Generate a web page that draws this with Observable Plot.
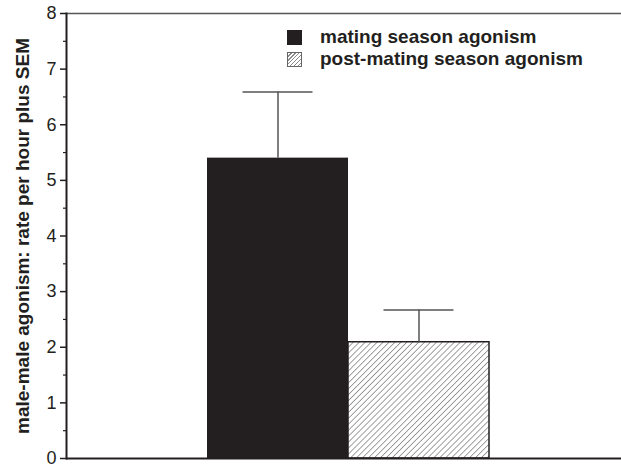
<!DOCTYPE html>
<html>
<head>
<meta charset="utf-8">
<script src="https://cdn.jsdelivr.net/npm/d3@7"></script>
<script src="https://cdn.jsdelivr.net/npm/@observablehq/plot@0.6"></script>
<style>
  html, body { margin: 0; padding: 0; background: #fff; }
  #wrap { position: relative; width: 621px; height: 467px; font-family: "Liberation Sans", Arial, Helvetica, sans-serif; color: #231f20; }
  #legend { position: absolute; left: 287px; top: 26px; font-weight: bold; font-size: 19px; line-height: 22px; }
  .row { display: flex; align-items: center; white-space: nowrap; }
  .sw { width: 15px; height: 15px; margin-right: 18px; box-sizing: border-box; }
</style>
</head>
<body>
<div id="wrap"><div id="legend"></div></div>
<script>
const categories = ["mating season agonism", "post-mating season agonism"];
const means = [5.40, 2.09];
const sems = [1.19, 0.58];
const yTicks = [0, 1, 2, 3, 4, 5, 6, 7, 8];
const yMinorTicks = [0.5, 1.5, 2.5, 3.5, 4.5, 5.5, 6.5, 7.5];
const yLabel = "male-male agonism: rate per hour plus SEM";

const data = categories.map((c, i) => ({cat: c, mean: means[i], sem: sems[i], top: means[i] + sems[i]}));
const ink = "#231f20";

const chart = Plot.plot({
  width: 621,
  height: 467,
  marginLeft: 66,
  marginTop: 13,
  marginBottom: 9,
  marginRight: 0,
  style: {fontFamily: "'Liberation Sans', Arial, Helvetica, sans-serif", fontSize: "18px", color: ink, background: "white"},
  x: {domain: categories, range: [206, 489], padding: 0, axis: null},
  y: {domain: [0, 8], axis: null},
  marks: [
    Plot.barY(data.filter((d, i) => i === 0), {x: "cat", y: "mean", fill: ink}),
    Plot.barY(data.filter((d, i) => i === 1), {x: "cat", y: "mean", fill: "url(#hatch)", stroke: ink, strokeWidth: 1.5}),
    Plot.ruleX(data, {x: "cat", y1: "mean", y2: "top", stroke: "#555", strokeWidth: 1.5}),
    Plot.tickY(data, {x: "cat", y: "top", insetLeft: 35.5, insetRight: 35.5, stroke: "#555", strokeWidth: 1.5}),
    Plot.ruleY([0], {stroke: ink, strokeWidth: 2}),
    Plot.ruleY([8], {stroke: "#555", strokeWidth: 1.5}),
    Plot.axisY(yTicks, {tickSize: 6, tickPadding: 4, tickFormat: d => String(d), label: null, fontSize: 18, stroke: ink, strokeWidth: 1.5}),
    Plot.axisY(yMinorTicks, {tickSize: 3, tickFormat: () => "", label: null, stroke: ink, strokeWidth: 1.2}),
    Plot.frame({anchor: "left", stroke: ink, strokeWidth: 2}),
    Plot.text([yLabel], {frameAnchor: "left", dx: -44, rotate: -90, textAnchor: "middle", fontWeight: "bold", fontSize: 19, fill: ink})
  ]
});

// hatch pattern definition
const ns = "http://www.w3.org/2000/svg";
const defs = document.createElementNS(ns, "defs");
defs.innerHTML = `<pattern id="hatch" patternUnits="userSpaceOnUse" width="4.2" height="4.2" patternTransform="rotate(45)">
  <rect width="4.2" height="4.2" fill="white"></rect>
  <line x1="0" y1="0" x2="0" y2="4.2" stroke="#8a8a8a" stroke-width="1.6"></line>
</pattern>`;
chart.insertBefore(defs, chart.firstChild);

document.getElementById("wrap").insertBefore(chart, document.getElementById("legend"));

// legend
const legend = document.getElementById("legend");
const swatchFill = ["background:" + ink, "background: repeating-linear-gradient(-45deg, #fff 0 1.5px, #8a8a8a 1.5px 2.8px); border: 1px solid #666"];
categories.forEach((c, i) => {
  const row = document.createElement("div");
  row.className = "row";
  const sw = document.createElement("div");
  sw.className = "sw";
  sw.setAttribute("style", swatchFill[i]);
  const t = document.createElement("span");
  t.textContent = c;
  row.appendChild(sw);
  row.appendChild(t);
  legend.appendChild(row);
});
</script>
</body>
</html>
